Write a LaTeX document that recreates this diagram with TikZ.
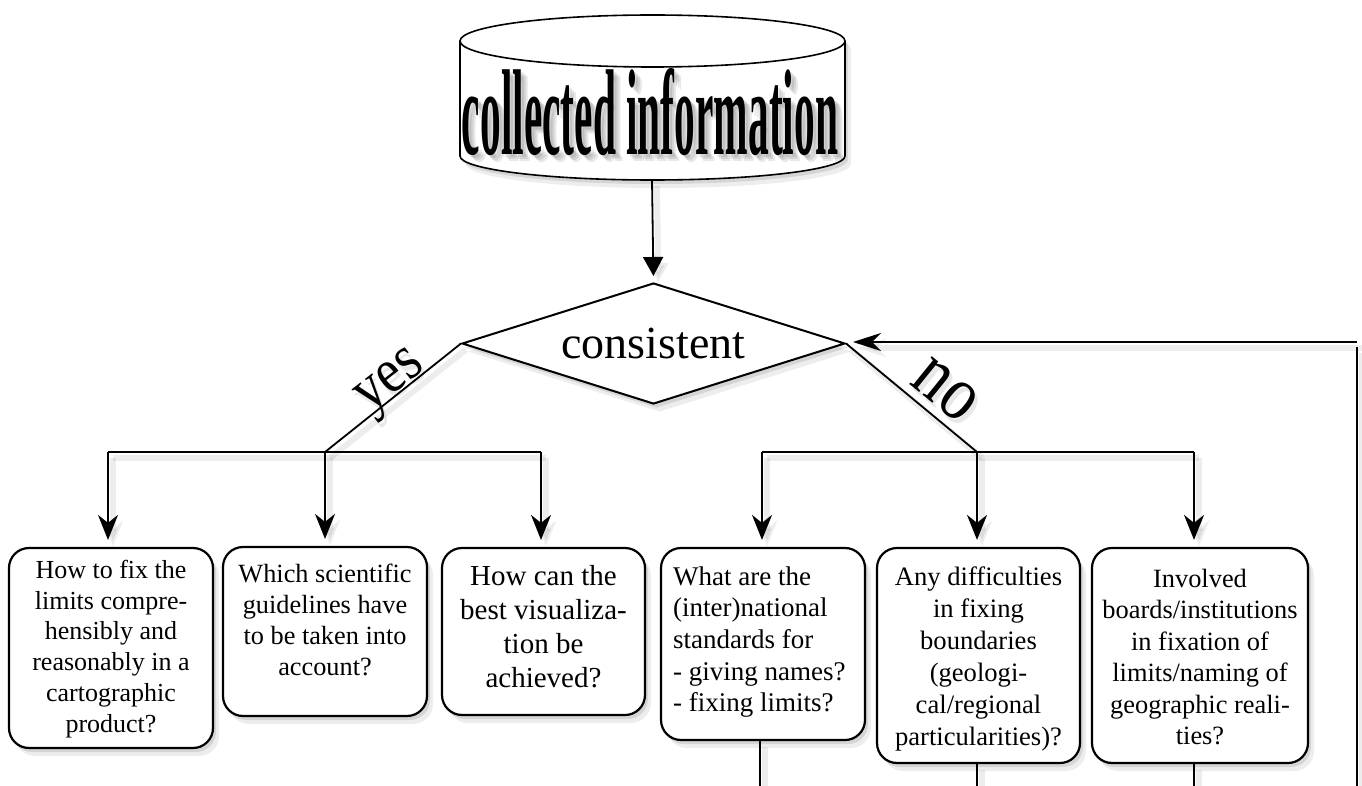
\documentclass[tikz,border=0pt]{standalone}
\usepackage{fontspec}
\setmainfont{Liberation Serif}
\usetikzlibrary{arrows.meta,shapes.geometric,shadows,calc}
\newcommand{\cyltext}{\resizebox{376pt}{86pt}{\bfseries collected information}}
\begin{document}
\begin{tikzpicture}[x=1pt,y=-1pt,
  softshadow/.style={preaction={fill=black,opacity=0.10,transform canvas={xshift=3pt,yshift=-4pt}},
                     preaction={fill=black,opacity=0.07,transform canvas={xshift=6pt,yshift=-8pt}}},
  lshadow/.style={preaction={draw=black,opacity=0.07,line width=6pt,transform canvas={xshift=5pt,yshift=-6pt}}},
  conn/.style={line width=1.8pt,lshadow},
  arr/.style={conn,-{Stealth[length=25pt,width=20pt,inset=8pt]},shorten >=7pt},
  box/.style={draw,line width=2.2pt,rounded corners=20pt,fill=white,inner sep=0pt,softshadow},
  txt/.style={align=center,inner sep=0pt},
  bigcond/.style={inner sep=0pt,anchor=base},
  tsh/.style={bigcond,text=black,text opacity=0.09}
]
\useasboundingbox (0,0) rectangle (1362,786);
% cylinder
\fill[white,softshadow] (460,41) -- (460,156) arc[start angle=180,end angle=360,x radius=192.5pt,y radius=24pt]
   -- (845,41) arc[start angle=0,end angle=180,x radius=192.5pt,y radius=26pt] -- cycle;
\draw[line width=1.6pt] (460,41) -- (460,156) arc[start angle=180,end angle=360,x radius=192.5pt,y radius=24pt] -- (845,41);
\draw[line width=1.6pt] (652.5,41) ellipse[x radius=192.5pt,y radius=26pt];
\node[tsh] (cs1) at (653,158) {\cyltext};
\node[tsh] (cs2) at (655,160) {\cyltext};
\node[tsh] (cs3) at (657,162) {\cyltext};
\node[bigcond] (cyl) at (650,155) {\cyltext};
\coordinate (cylbot) at (652,180);
% diamond
\node[diamond,draw,line width=2pt,fill=white,softshadow,minimum width=383pt,minimum height=121pt,aspect=3.17,inner sep=0pt,
      font=\fontsize{46}{50}\selectfont] (dia) at (653.5,343.5) {consistent};
\draw[conn,-{Triangle[length=19pt,width=20pt]},shorten >=6pt] (cylbot) -- (dia.north);
% labels
\node[tsh,font=\fontsize{64}{64}\selectfont,rotate=38] (yessh) at (401,396) {\scalebox{0.85}[1]{yes}};
\node[bigcond,font=\fontsize{64}{64}\selectfont,rotate=38] (yes) at (398,391) {\scalebox{0.85}[1]{yes}};
\node[tsh,font=\fontsize{78}{78}\selectfont,rotate=-39] (nosh) at (937,409) {\scalebox{0.83}[1]{no}};
\node[bigcond,font=\fontsize{78}{78}\selectfont,rotate=-39] (no) at (934,404) {\scalebox{0.83}[1]{no}};
% junctions
\coordinate (jy) at (325,452);
\coordinate (yl) at (108,452);
\coordinate (yr) at (541,452);
\coordinate (jn) at (977,452);
\coordinate (nl) at (762,452);
\coordinate (nr) at (1194,452);
% boxes
\node[box,minimum width=204pt,minimum height=200pt] (b1) at (111,648) {};
\node[box,minimum width=204pt,minimum height=169pt] (b2) at (325,631.5) {};
\node[box,minimum width=203pt,minimum height=167pt] (b3) at (543.5,631.5) {};
\node[box,minimum width=204pt,minimum height=192pt] (b4) at (763,644) {};
\node[box,minimum width=203pt,minimum height=215pt] (b5) at (978.5,655.5) {};
\node[box,minimum width=216pt,minimum height=215pt] (b6) at (1200,655.5) {};
\node[txt,font=\fontsize{26}{30.8}\selectfont] (t1) at (111,649) {How to fix the\\limits compre-\\hensibly and\\reasonably in a\\cartographic\\product?};
\node[txt,font=\fontsize{26.3}{30.8}\selectfont] (t2) at (325,620) {Which scientific\\guidelines have\\to be taken into\\account?};
\node[txt,font=\fontsize{29}{34}\selectfont] (t3) at (543.5,627) {How can the\\best visualiza-\\tion be\\achieved?};
\node[txt,align=left,anchor=west,font=\fontsize{27}{31.7}\selectfont] (t4) at (673,642) {What are the\\(inter)national\\standards for\\- giving names?\\- fixing limits?};
\node[txt,font=\fontsize{26.6}{32}\selectfont] (t5) at (978.5,658.5) {Any difficulties\\in fixing\\boundaries\\(geologi-\\cal/regional\\particularities)?};
\node[txt,font=\fontsize{26.4}{31.4}\selectfont] (t6) at (1200,657) {Involved\\boards/institutions\\in fixation of\\limits/naming of\\geographic reali-\\ties?};
% yes branch
\draw[conn] (dia.west) -- (jy);
\draw[conn] (yl) -- (yr);
\draw[arr] (yl) -- (yl |- b1.north);
\draw[arr] (jy) -- (jy |- b2.north);
\draw[arr] (yr) -- (yr |- b3.north);
% no branch
\draw[conn] (dia.east) -- (jn);
\draw[conn] (nl) -- (nr);
\draw[arr] (nl) -- (nl |- b4.north);
\draw[arr] (jn) -- (jn |- b5.north);
\draw[arr] (nr) -- (nr |- b6.north);
% lower lines
\coordinate (e4) at (760,786);
\coordinate (e5) at (977,786);
\coordinate (e6) at (1194,786);
\draw[conn] (e4 |- b4.south) -- (e4);
\draw[conn] (e5 |- b5.south) -- (e5);
\draw[conn] (e6 |- b6.south) -- (e6);
% feedback
\coordinate (fbB) at (1357,786);
\coordinate (fbT) at (1357,342);
\draw[conn] (fbB) -- (1357,347);
\draw[conn,-{Stealth[length=28pt,width=18pt,inset=9pt]},shorten >=7pt] (fbT) -- (fbT -| dia.east);
\end{tikzpicture}
\end{document}
